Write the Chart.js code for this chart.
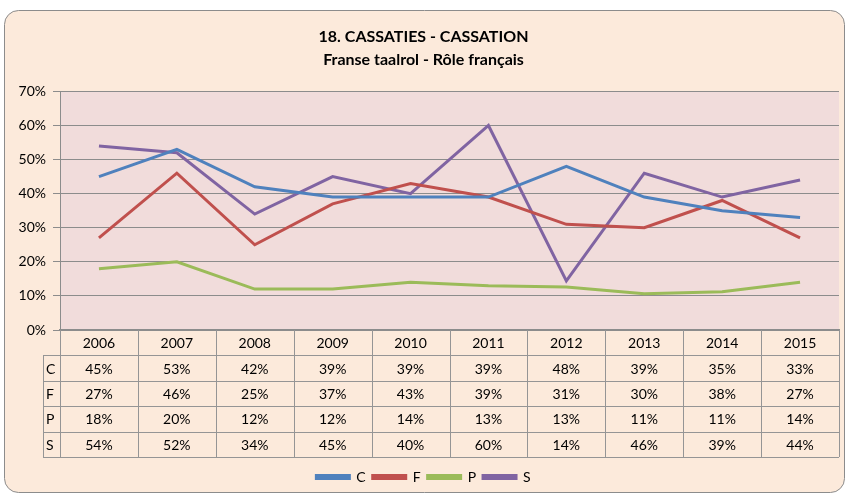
<!DOCTYPE html>
<html>
<head>
<meta charset="utf-8">
<script src="https://cdn.jsdelivr.net/npm/chart.js@4.4.1/dist/chart.umd.min.js"></script>
<style>
  html, body { margin: 0; padding: 0; background: #ffffff; }
  #wrap { width: 849px; height: 498px; }
</style>
</head>
<body>
<div id="wrap"><canvas id="grafica" width="849" height="498"></canvas></div>
<script>
// Datos
const anios = ['2006', '2007', '2008', '2009', '2010', '2011', '2012', '2013', '2014', '2015'];
const serieC = [45, 53, 42, 39, 39, 39, 48, 39, 35, 33];
const serieF = [27, 46, 25, 37, 43, 39, 31, 30, 38, 27];
const serieP = [18, 20, 12, 12, 14, 13, 12.6, 10.6, 11.2, 14];
const serieS = [54, 52, 34, 45, 40, 60, 14.4, 46, 39, 44];
const nombres = ['C', 'F', 'P', 'S'];
const colores = ['#4F81BD', '#C0504D', '#9BBB59', '#8064A2'];

const fuente = 'Lato, "Open Sans", sans-serif';
const series = [serieC, serieF, serieP, serieS];

// Fondo del marco y del área de trazado
const fondoPlugin = {
    id: 'fondo',
    beforeDraw(chart) {
        const ctx = chart.ctx;
        const a = chart.chartArea;
        ctx.save();
        ctx.fillStyle = '#ffffff';
        ctx.fillRect(0, 0, chart.width, chart.height);
        ctx.beginPath();
        ctx.roundRect(4.5, 10.5, 840, 482, 14);
        ctx.fillStyle = '#FCEADB';
        ctx.fill();
        ctx.strokeStyle = '#8C8C8C';
        ctx.lineWidth = 1;
        ctx.stroke();
        ctx.fillStyle = '#F1DCDB';
        ctx.fillRect(a.left, a.top, a.right - a.left, a.bottom - a.top);
        ctx.restore();
    }
};

// Tabla de datos bajo el eje X
const tablaPlugin = {
    id: 'tabla',
    afterDraw(chart) {
        const ctx = chart.ctx;
        const a = chart.chartArea;
        const x = chart.scales.x;
        const ancho = (a.right - a.left) / anios.length;
        const altoFila = 25.4;
        const izq = 43;
        ctx.save();
        ctx.strokeStyle = '#959595';
        ctx.lineWidth = 1;
        ctx.font = '14px ' + fuente;
        ctx.fillStyle = '#000000';
        ctx.textBaseline = 'middle';

        const top = a.bottom;
        const filas = nombres.length + 1;
        const fondo = top + altoFila * filas;

        // líneas horizontales
        for (let r = 1; r <= filas; r++) {
            const y = Math.round(top + altoFila * r) + 0.5;
            ctx.beginPath();
            ctx.moveTo(izq, y);
            ctx.lineTo(a.right, y);
            ctx.stroke();
        }
        // líneas verticales
        for (let c = 0; c <= anios.length; c++) {
            const xx = Math.round(a.left + ancho * c) + 0.5;
            ctx.beginPath();
            ctx.moveTo(xx, top);
            ctx.lineTo(xx, fondo);
            ctx.stroke();
        }
        ctx.beginPath();
        ctx.moveTo(izq + 0.5, top + altoFila);
        ctx.lineTo(izq + 0.5, fondo);
        ctx.stroke();

        // textos
        ctx.textAlign = 'center';
        anios.forEach((anio, i) => {
            const cx = x.getPixelForValue(i);
            ctx.fillText(anio, cx, top + altoFila / 2 + 1);
            series.forEach((s, j) => {
                ctx.fillText(Math.round(s[i]) + '%', cx, top + altoFila * (j + 1.5) + 1);
            });
        });
        ctx.textAlign = 'left';
        nombres.forEach((n, j) => {
            ctx.fillText(n, izq + 3, top + altoFila * (j + 1.5) + 1);
        });
        ctx.restore();
    }
};

const ctx = document.getElementById('grafica').getContext('2d');
new Chart(ctx, {
    type: 'line',
    data: {
        labels: anios,
        datasets: series.map((s, i) => ({
            label: nombres[i],
            data: s,
            borderColor: colores[i],
            backgroundColor: colores[i],
            borderWidth: 3,
            pointRadius: 0,
            tension: 0,
            fill: false
        }))
    },
    options: {
        responsive: false,
        animation: false,
        layout: {
            padding: { top: 18, right: 10, left: 8, bottom: 4 }
        },
        plugins: {
            title: {
                display: true,
                text: '18. CASSATIES - CASSATION',
                color: '#000000',
                font: { family: fuente, size: 16, weight: 'bold' },
                padding: { top: 9, bottom: 4 }
            },
            subtitle: {
                display: true,
                text: 'Franse taalrol - Rôle français',
                color: '#000000',
                font: { family: fuente, size: 16, weight: 'bold' },
                padding: { top: 0, bottom: 22 }
            },
            legend: {
                position: 'bottom',
                labels: {
                    color: '#000000',
                    font: { family: fuente, size: 14 },
                    boxWidth: 33,
                    boxHeight: 3,
                    padding: 7
                }
            },
            tooltip: { enabled: false }
        },
        scales: {
            y: {
                min: 0,
                max: 70,
                ticks: {
                    stepSize: 10,
                    color: '#000000',
                    font: { family: fuente, size: 14 },
                    padding: 7,
                    callback: v => v + '%'
                },
                grid: {
                    color: '#8C8C8C',
                    tickLength: 7
                },
                border: { color: '#8C8C8C' },
                afterFit(scale) { scale.width = 52; }
            },
            x: {
                offset: true,
                ticks: { display: false },
                grid: { display: false },
                border: { color: '#8C8C8C', width: 2 },
                afterFit(scale) { scale.height = 133; }
            }
        }
    },
    plugins: [fondoPlugin, tablaPlugin]
});
</script>
</body>
</html>
